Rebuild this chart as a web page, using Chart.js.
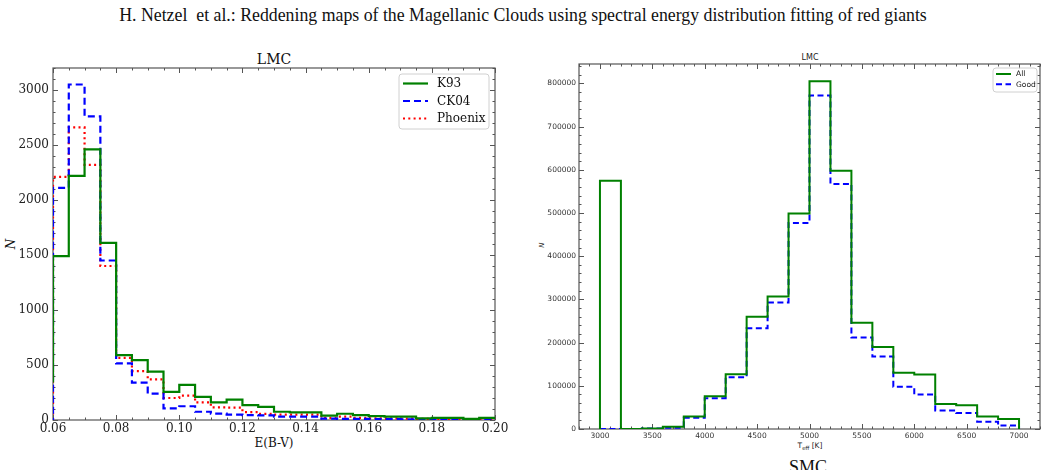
<!DOCTYPE html>
<html>
<head>
<meta charset="utf-8">
<script src="https://cdn.jsdelivr.net/npm/chart.js@4.4.1/dist/chart.umd.min.js"></script>
<style>
html,body{margin:0;padding:0;background:#fff;width:1048px;height:470px;overflow:hidden}
.t{position:absolute;white-space:nowrap;color:#111;transform:translate(-50%,-50%);line-height:1}
canvas{position:absolute;top:0}
</style>
</head>
<body>
<div class="t" style="left:523px;top:15px;font:17.8px 'Liberation Serif',serif">H. Netzel&nbsp; et al.: Reddening maps of the Magellanic Clouds using spectral energy distribution fitting of red giants</div>
<div class="t" style="left:274px;top:59px;font:14px 'DejaVu Serif',serif">LMC</div>
<div class="t" style="left:274px;top:443px;font:12px 'DejaVu Serif',serif">E(B-V)</div>
<div class="t" style="left:11px;top:244px;font:italic 12px 'DejaVu Serif',serif;transform:translate(-50%,-50%) rotate(-90deg)">N</div>
<div class="t" style="left:810px;top:57px;font:8px 'DejaVu Sans',sans-serif;color:#222">LMC</div>
<div class="t" style="left:810px;top:446px;font:7.5px 'DejaVu Sans',sans-serif;color:#222">T<sub style="font-size:5.5px">eff</sub> [K]</div>
<div class="t" style="left:542px;top:245px;font:italic 7px 'DejaVu Sans',sans-serif;color:#222;transform:translate(-50%,-50%) rotate(-90deg)">N</div>
<div class="t" style="left:808px;top:467px;font:18px 'Liberation Serif',serif">SMC</div>

<canvas id="lmcEbv" width="520" height="470" style="left:0"></canvas>
<canvas id="lmcTeff" width="528" height="470" style="left:520px"></canvas>

<script>
// E(B-V) histogram, bins of 0.005 (first bin lies left of the plotted range)
const ebvEdges = [0.055,0.060,0.065,0.070,0.075,0.080,0.085,0.090,0.095,0.100,0.105,0.110,0.115,0.120,0.125,
  0.130,0.135,0.140,0.145,0.150,0.155,0.160,0.165,0.170,0.175,0.180,0.185,0.190,0.195,0.200];
const k93    = [350,1490,2220,2460,1610,590,545,440,255,320,210,160,185,135,120,75,70,70,40,57,45,36,30,30,15,20,20,10,20];
const ck04   = [0,2110,3050,2760,1450,515,340,240,105,125,75,58,48,45,42,30,30,30,12,10,10,8,8,6,5,5,5,4,4];
const phoenix= [0,2210,2660,2320,1400,565,444,369,200,221,160,115,112,72,55,48,48,48,20,30,20,16,14,12,10,10,9,8,8];
const ebvTicks = [0.06,0.08,0.10,0.12,0.14,0.16,0.18,0.20];
const nTicks = [0,500,1000,1500,2000,2500,3000];

// Teff histogram, bins of 200 K
const teffEdges = [3000,3200,3400,3600,3800,4000,4200,4400,4600,4800,5000,5200,5400,5600,5800,6000,6200,6400,6600,6800,7000];
const allStars  = [575000,0,1000,5000,29000,76000,127000,260000,307000,499000,805000,598000,246000,190000,130000,126000,58000,55000,29000,23000];
const goodStars = [0,0,1000,3000,26000,71000,120000,233000,293000,477000,772000,567000,212000,168000,98000,80000,43000,37000,17000,8000];
const teffTicks = [3000,3500,4000,4500,5000,5500,6000,6500,7000];
const countTicks = [0,100000,200000,300000,400000,500000,600000,700000,800000];

function histPoints(edges, counts, closeEnds){
  const pts = [];
  if(closeEnds) pts.push({x:edges[0], y:0});
  counts.forEach((c,i)=>{ pts.push({x:edges[i], y:c}); pts.push({x:edges[i+1], y:c}); });
  if(closeEnds) pts.push({x:edges[edges.length-1], y:0});
  return pts;
}
function steps(from, to, step, dec){ const out=[]; for(let v=from; v<=to+step/2; v+=step) out.push(+v.toFixed(dec)); return out; }

// frame + inward ticks on all four sides, like the matplotlib style
function frameTicks(minorX, minorY, majX, majY){
  return { id:'frameTicks', beforeDatasetsDraw(chart){
    const {ctx, chartArea:a, scales:{x,y}} = chart;
    ctx.save();
    ctx.strokeStyle='#555'; ctx.lineWidth=1;
    const tick=(vals, len)=>{
      vals.forEach(v=>{ const px=Math.round(x.getPixelForValue(v))+0.5;
        if(px<a.left-1||px>a.right+1) return;
        ctx.beginPath(); ctx.moveTo(px,a.bottom); ctx.lineTo(px,a.bottom-len); ctx.moveTo(px,a.top); ctx.lineTo(px,a.top+len); ctx.stroke(); });
    };
    const tickY=(vals, len)=>{
      vals.forEach(v=>{ const py=Math.round(y.getPixelForValue(v))+0.5;
        if(py<a.top-1||py>a.bottom+1) return;
        ctx.beginPath(); ctx.moveTo(a.left,py); ctx.lineTo(a.left+len,py); ctx.moveTo(a.right,py); ctx.lineTo(a.right-len,py); ctx.stroke(); });
    };
    tick(minorX,2.5); tick(majX,5); tickY(minorY,2.5); tickY(majY,5);
    ctx.lineWidth=1.2;
    ctx.strokeRect(a.left, a.top, a.right-a.left, a.bottom-a.top);
    ctx.restore();
  }};
}

function boxLegend(o){
  return { id:'boxLegend', afterDraw(chart){
    const ctx = chart.ctx, r=3;
    ctx.save();
    ctx.beginPath();
    ctx.moveTo(o.x+r,o.y); ctx.arcTo(o.x+o.w,o.y,o.x+o.w,o.y+o.h,r); ctx.arcTo(o.x+o.w,o.y+o.h,o.x,o.y+o.h,r);
    ctx.arcTo(o.x,o.y+o.h,o.x,o.y,r); ctx.arcTo(o.x,o.y,o.x+o.w,o.y,r); ctx.closePath();
    ctx.fillStyle='rgba(255,255,255,0.8)'; ctx.fill();
    ctx.strokeStyle='#d0d0d0'; ctx.lineWidth=1; ctx.stroke();
    chart.data.datasets.forEach((ds,i)=>{
      const yy = o.y + o.first + i*o.row;
      ctx.strokeStyle=ds.borderColor; ctx.lineWidth=ds.borderWidth; ctx.setLineDash(ds.borderDash||[]);
      ctx.beginPath(); ctx.moveTo(o.x+o.pad, yy); ctx.lineTo(o.x+o.pad+o.len, yy); ctx.stroke();
      ctx.setLineDash([]);
      ctx.fillStyle='#111'; ctx.font=o.font; ctx.textBaseline='middle'; ctx.textAlign='left';
      ctx.fillText(ds.label, o.x+o.pad+o.len+o.gap, yy+0.5);
    });
    ctx.restore();
  }};
}

const lineDs = (label, pts, color, dash, w)=>({label, data:pts, borderColor:color, borderWidth:w, borderDash:dash,
  pointRadius:0, tension:0, fill:false, borderCapStyle:'butt', borderJoinStyle:'miter'});

const serifTick = {family:"'DejaVu Serif', serif", size:12};
const sansTick  = {family:"'DejaVu Sans', sans-serif", size:7.5};

new Chart(document.getElementById('lmcEbv'), {
  type:'line',
  data:{ datasets:[
    lineDs('K93', histPoints(ebvEdges,k93,false), '#008000', [], 2.2),
    lineDs('CK04', histPoints(ebvEdges,ck04,false), '#0000ff', [7,4], 2.2),
    lineDs('Phoenix', histPoints(ebvEdges,phoenix,false), '#ff0000', [2,3.3], 2.2)
  ]},
  options:{
    responsive:false, animation:false, devicePixelRatio:1,
    layout:{padding:{top:68,right:25,left:0,bottom:0}},
    plugins:{legend:{display:false}, tooltip:{enabled:false}},
    scales:{
      x:{type:'linear', min:0.06, max:0.20,
        afterBuildTicks:s=>{ s.ticks = ebvTicks.map(v=>({value:v})); },
        afterFit:s=>{ s.height = 50; },
        ticks:{callback:v=>v.toFixed(2), font:serifTick, color:'#222', padding:2, maxRotation:0, autoSkip:false},
        grid:{display:false, drawTicks:false}, border:{display:false}},
      y:{min:0, max:3200,
        afterBuildTicks:s=>{ s.ticks = nTicks.map(v=>({value:v})); },
        afterFit:s=>{ s.width = 53; },
        ticks:{callback:v=>String(v), font:serifTick, color:'#222', padding:4},
        grid:{display:false, drawTicks:false}, border:{display:false}}
    }
  },
  plugins:[frameTicks(steps(0.06,0.20,0.005,3), steps(0,3200,100,0), ebvTicks, nTicks),
    boxLegend({x:399, y:74, w:90, h:55, first:9.5, row:17.5, pad:4, len:25, gap:9, font:"12px 'DejaVu Serif', serif"})]
});

new Chart(document.getElementById('lmcTeff'), {
  type:'line',
  data:{ datasets:[
    lineDs('All', histPoints(teffEdges,allStars,true), '#008000', [], 2),
    lineDs('Good', histPoints(teffEdges,goodStars,true), '#0000ff', [6,3.5], 2)
  ]},
  options:{
    responsive:false, animation:false, devicePixelRatio:1,
    layout:{padding:{top:64,right:8,left:0,bottom:0}},
    plugins:{legend:{display:false}, tooltip:{enabled:false}},
    scales:{
      x:{type:'linear', min:2800, max:7200,
        afterBuildTicks:s=>{ s.ticks = teffTicks.map(v=>({value:v})); },
        afterFit:s=>{ s.height = 41; },
        ticks:{callback:v=>String(v), font:sansTick, color:'#333', padding:3, maxRotation:0, autoSkip:false},
        grid:{display:false, drawTicks:false}, border:{display:false}},
      y:{min:0, max:845000,
        afterBuildTicks:s=>{ s.ticks = countTicks.map(v=>({value:v})); },
        afterFit:s=>{ s.width = 59; },
        ticks:{callback:v=>String(v), font:sansTick, color:'#333', padding:3},
        grid:{display:false, drawTicks:false}, border:{display:false}}
    }
  },
  plugins:[frameTicks(steps(2800,7200,100,0), steps(0,840000,20000,0), teffTicks, countTicks),
    boxLegend({x:473, y:68, w:44, h:24, first:6, row:10.3, pad:3, len:15, gap:5, font:"7.5px 'DejaVu Sans', sans-serif"})]
});
</script>
</body>
</html>
